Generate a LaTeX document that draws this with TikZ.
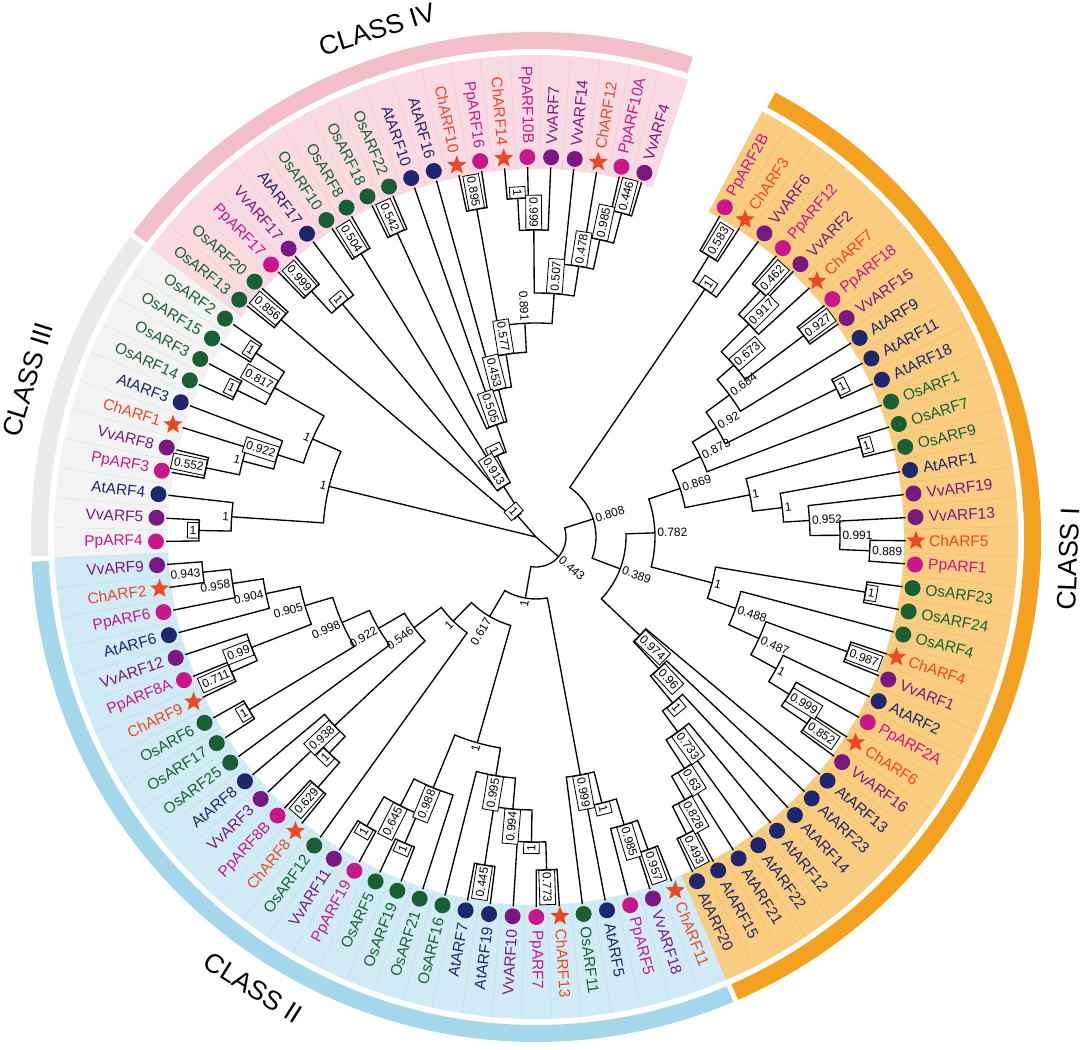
\documentclass[tikz,border=0pt]{standalone}
\usepackage{fontspec}
\setmainfont{Liberation Sans}
\usetikzlibrary{shapes.geometric}

\definecolor{cPp}{RGB}{199,23,138}
\definecolor{cVv}{RGB}{120,24,128}
\definecolor{cAt}{RGB}{30,38,110}
\definecolor{cOs}{RGB}{24,96,52}
\definecolor{cCh}{RGB}{236,72,36}
\definecolor{shI}{RGB}{249,204,128}
\definecolor{bandI}{RGB}{243,161,33}
\definecolor{shII}{RGB}{209,235,246}
\definecolor{bandII}{RGB}{165,215,236}
\definecolor{shIII}{RGB}{243,243,243}
\definecolor{bandIII}{RGB}{234,234,234}
\definecolor{shIV}{RGB}{250,218,226}
\definecolor{bandIV}{RGB}{243,190,204}

\tikzset{
branch/.style={line width=0.95pt, black}, % tree edges
bsplain/.style={font=\fontsize{8.5}{9}\selectfont, inner xsep=1.6pt, inner ysep=2pt}, % support value
bsbox/.style={bsplain, draw, line width=0.6pt, fill=white, inner ysep=2.6pt}, % support value in a box
leaflab/.style={font=\fontsize{11}{12}\selectfont, inner sep=0pt},
dotmark/.style={circle, minimum size=0.4cm, inner sep=0pt},
chmark/.style={star, star points=5, star point ratio=2.3, fill=cCh, minimum size=0.5cm, inner sep=0pt},
sepline/.style={black, opacity=0.06, line width=0.5pt},
classlab/.style={font=\fontsize{19}{19}\selectfont},
}

% clade: [label style]{name}{radius}{child a}{child b}{support}
\newcommand\clade[6][bsplain]{%
  \edef\aA{\csname ta@#4\endcsname}%
  \edef\aB{\csname ta@#5\endcsname}%
  \pgfmathsetmacro\aN{(\aA+\aB)/2}%
  \expandafter\xdef\csname ta@#2\endcsname{\aN}%
  \coordinate (#2) at (\aN:#3);
  \draw[branch] (#4) -- (\aA:#3) arc[start angle=\aA, end angle=\aB, radius=#3] -- (#5);
  \pgfmathtruncatemacro\rt{cos(\aN)>=0}%
  \ifnum\rt=1 \def\an{west}\pgfmathsetmacro\rot{\aN}\else\def\an{east}\pgfmathsetmacro\rot{\aN+180}\fi
  \node[#1, anchor=\an, rotate=\rot] (b#2) at (#2) {#6};
}
% sector between two angles and two radii
\newcommand\sector[5]{%
  \fill[#1] (#2:#4) arc[start angle=#2, end angle=#3, radius=#4] -- (#3:#5)
    arc[start angle=#3, end angle=#2, radius=#5] -- cycle;
}
\def\chtag{Ch}

\begin{document}
\begin{tikzpicture}[x=0.025cm, y=0.025cm]
\path[use as bounding box, fill=white] (-536,-513) rectangle (548,537);

% class sectors
\sector{shI}{61.99}{-66.71}{368}{482}
\sector{shII}{-66.71}{-177.54}{368}{482}
\sector{shIII}{-177.54}{-216.86}{368}{482}
\sector{shIV}{-216.86}{-288.36}{368}{482}
\foreach \i in {0,...,98}{
  \pgfmathsetmacro\sa{61.9875-3.575*\i}
  \draw[sepline] (\sa:368) -- (\sa:482);
}
\sector{bandI}{61.7}{-66.4}{488}{505}
\sector{bandII}{-67.0}{-177.2}{488}{505}
\sector{bandIII}{-177.8}{-216.5}{488}{505}
\sector{bandIV}{-217.1}{-288.1}{488}{505}

\node[classlab, rotate=87.6] (clI) at (-2.4:533) {CLASS I};
\node[classlab, rotate=-32.1] (clII) at (-122.1:532) {CLASS II};
\node[classlab, rotate=72.8] (clIII) at (162.8:532) {CLASS III};
\node[classlab, rotate=17.4] (clIV) at (107.4:532) {CLASS IV};

% leaves
\foreach \sp/\sf [count=\i from 0] in {
Pp/ARF2B, Ch/ARF3, Vv/ARF6, Pp/ARF12, Vv/ARF2, Ch/ARF7, Pp/ARF18, Vv/ARF15, At/ARF9, At/ARF11,
At/ARF18, Os/ARF1, Os/ARF7, Os/ARF9, At/ARF1, Vv/ARF19, Vv/ARF13, Ch/ARF5, Pp/ARF1, Os/ARF23,
Os/ARF24, Os/ARF4, Ch/ARF4, Vv/ARF1, At/ARF2, Pp/ARF2A, Ch/ARF6, Vv/ARF16, At/ARF13, At/ARF23,
At/ARF14, At/ARF12, At/ARF22, At/ARF21, At/ARF15, At/ARF20,
Ch/ARF11, Vv/ARF18, Pp/ARF5, At/ARF5, Os/ARF11, Ch/ARF13, Pp/ARF7, Vv/ARF10, At/ARF19, At/ARF7,
Os/ARF16, Os/ARF21, Os/ARF19, Os/ARF5, Pp/ARF19, Vv/ARF11, Os/ARF12, Ch/ARF8, Pp/ARF8B, Vv/ARF3,
At/ARF8, Os/ARF25, Os/ARF17, Os/ARF6, Ch/ARF9, Pp/ARF8A, Vv/ARF12, At/ARF6, Pp/ARF6, Ch/ARF2,
Vv/ARF9,
Pp/ARF4, Vv/ARF5, At/ARF4, Pp/ARF3, Vv/ARF8, Ch/ARF1, At/ARF3, Os/ARF14, Os/ARF3, Os/ARF15,
Os/ARF2,
Os/ARF13, Os/ARF20, Pp/ARF17, Vv/ARF17, At/ARF17, Os/ARF10, Os/ARF8, Os/ARF18, Os/ARF22, At/ARF10,
At/ARF16, Ch/ARF10, Pp/ARF16, Ch/ARF14, Pp/ARF10B, Vv/ARF7, Vv/ARF14, Ch/ARF12, Pp/ARF10A, Vv/ARF4}{
  \pgfmathsetmacro\ta{60.2-3.575*\i}
  \expandafter\xdef\csname ta@\sp\sf\endcsname{\ta}
  \coordinate (\sp\sf) at (\ta:370);
  \edef\cursp{\sp}
  \ifx\cursp\chtag \node[chmark] (m\sp\sf) at (\ta:380) {};
  \else \node[dotmark, fill=c\sp] (m\sp\sf) at (\ta:380) {};\fi
  \pgfmathtruncatemacro\rt{cos(\ta)>=0}
  \ifnum\rt=1 \def\an{west}\pgfmathsetmacro\rot{\ta}\else\def\an{east}\pgfmathsetmacro\rot{\ta+180}\fi
  \node[leaflab, text=c\sp, anchor=\an, rotate=\rot] (t\sp\sf) at (\ta:393) {\sp\sf};
}

% class I
\clade[bsbox]{c583}{330}{PpARF2B}{ChARF3}{0.583}
\clade[bsbox]{cI1}{300}{c583}{VvARF6}{1}
\clade[bsbox]{c462}{333}{PpARF12}{VvARF2}{0.462}
\clade[bsbox]{c917}{301}{c462}{ChARF7}{0.917}
\clade[bsbox]{c927}{335}{PpARF18}{VvARF15}{0.927}
\clade[bsbox]{c673}{262}{c917}{c927}{0.673}
\clade{c684}{240}{c673}{AtARF9}{0.684}
\clade[bsbox]{cAt1118}{335}{AtARF11}{AtARF18}{1}
\clade{c920}{211}{c684}{cAt1118}{0.92}
\clade{c873}{183}{c920}{OsARF1}{0.873}
\clade[bsbox]{cOs79}{337}{OsARF7}{OsARF9}{1}
\clade{c889}{334}{ChARF5}{PpARF1}{0.889}
\clade{c991}{304}{VvARF13}{c889}{0.991}
\clade{c952}{274}{VvARF19}{c991}{0.952}
\clade{cZ}{248}{AtARF1}{c952}{1}
\clade{cX}{218}{cOs79}{cZ}{1}
\clade{c869}{152}{c873}{cX}{0.869}
\clade[bsbox]{cOs2324}{334}{OsARF23}{OsARF24}{1}
\clade[bsbox]{c987}{332}{ChARF4}{VvARF1}{0.987}
\clade[bsbox]{c852}{329}{ChARF6}{VvARF16}{0.852}
\clade[bsbox]{c999a}{298}{PpARF2A}{c852}{0.999}
\clade{cAt2}{274}{AtARF2}{c999a}{1}
\clade{c487}{245}{c987}{cAt2}{0.487}
\clade{c488}{212}{OsARF4}{c487}{0.488}
\clade{cY}{182}{cOs2324}{c488}{1}
\clade{c782}{119}{c869}{cY}{0.782}
\clade[bsbox]{c493}{333}{AtARF15}{AtARF20}{0.493}
\clade[bsbox]{c828}{302}{AtARF21}{c493}{0.828}
\clade[bsbox]{c630}{275}{AtARF22}{c828}{0.63}
\clade[bsbox]{c733}{241}{AtARF12}{c630}{0.733}
\clade[bsbox]{cAt14}{215}{AtARF14}{c733}{1}
\clade[bsbox]{c960}{180}{AtARF23}{cAt14}{0.96}
\clade[bsbox]{c974}{143}{AtARF13}{c960}{0.974}
\clade{c389}{90}{c782}{c974}{0.389}
\clade{c808}{60}{cI1}{c389}{0.808}

% class II
\clade[bsbox]{c957}{332}{ChARF11}{VvARF18}{0.957}
\clade[bsbox]{c985b}{301}{PpARF5}{c957}{0.985}
\clade[bsbox]{cAt5}{274}{AtARF5}{c985b}{1}
\clade[bsbox]{c999b}{242}{OsARF11}{cAt5}{0.999}
\clade[bsbox]{c773}{333}{ChARF13}{PpARF7}{0.773}
\clade[bsbox]{cVv10}{305}{c773}{VvARF10}{1}
\clade[bsbox]{c445}{332}{AtARF19}{AtARF7}{0.445}
\clade[bsbox]{c994}{273}{cVv10}{c445}{0.994}
\clade[bsbox]{c995}{242}{c994}{OsARF16}{0.995}
\clade[bsbox]{cOs195}{333}{OsARF19}{OsARF5}{1}
\clade[bsbox]{cPp19}{335}{PpARF19}{VvARF11}{1}
\clade[bsbox]{c645}{301}{cOs195}{cPp19}{0.645}
\clade[bsbox]{c988}{271}{OsARF21}{c645}{0.988}
\clade{cII2}{214}{c995}{c988}{1}
\clade[bsbox]{c629}{332}{ChARF8}{PpARF8B}{0.629}
\clade[bsbox]{cVv3}{299}{c629}{VvARF3}{1}
\clade[bsbox]{c938}{276}{cVv3}{AtARF8}{0.938}
\clade[bsbox]{cOs176}{335}{OsARF17}{OsARF6}{1}
\clade[bsbox]{c711}{333}{ChARF9}{PpARF8A}{0.711}
\clade[bsbox]{c990}{305}{c711}{VvARF12}{0.99}
\clade{c943}{335}{ChARF2}{VvARF9}{0.943}
\clade{c958}{307}{PpARF6}{c943}{0.958}
\clade{c904}{276}{AtARF6}{c958}{0.904}
\clade{c905}{241}{c990}{c904}{0.905}
\clade{c998}{212}{cOs176}{c905}{0.998}
\clade{c922b}{182}{OsARF25}{c998}{0.922}
\clade{c546}{152}{c938}{c922b}{0.546}
\clade{cII3}{118}{OsARF12}{c546}{1}
\clade{c617}{92}{cII2}{cII3}{0.617}
\clade{cII}{62}{c999b}{c617}{1}
\clade{c443}{30}{c808}{cII}{0.443}

% class III
\clade[bsbox]{cPp4}{337}{PpARF4}{VvARF5}{1}
\clade{cAt4}{305}{AtARF4}{cPp4}{1}
\clade[bsbox]{c552}{337}{PpARF3}{VvARF8}{0.552}
\clade{cCh1}{303}{c552}{ChARF1}{1}
\clade[bsbox]{c922c}{271}{cCh1}{AtARF3}{0.922}
\clade[bsbox]{cOs143}{333}{OsARF14}{OsARF3}{1}
\clade[bsbox]{cOs152}{335}{OsARF15}{OsARF2}{1}
\clade[bsbox]{c817}{301}{cOs143}{cOs152}{0.817}
\clade{cIII2}{244}{c922c}{c817}{1}
\clade{cIII}{213}{cIII2}{cAt4}{1}

% class IV
\clade[bsbox]{c856}{335}{OsARF13}{OsARF20}{0.856}
\clade[bsbox]{c999c}{333}{PpARF17}{VvARF17}{0.999}
\clade[bsbox]{cAt17}{303}{c999c}{AtARF17}{1}
\clade[bsbox]{c504}{333}{OsARF10}{OsARF8}{0.504}
\clade[bsbox]{c542}{334}{OsARF18}{OsARF22}{0.542}
\clade[bsbox]{c895}{333}{ChARF10}{PpARF16}{0.895}
\clade[bsbox]{cCh14}{339}{ChARF14}{PpARF10B}{1}
\clade[bsbox]{c999d}{307}{cCh14}{VvARF7}{0.999}
\clade[bsbox]{c446}{335}{PpARF10A}{VvARF4}{0.446}
\clade[bsbox]{c985c}{304}{ChARF12}{c446}{0.985}
\clade[bsbox]{c478}{274}{VvARF14}{c985c}{0.478}
\clade[bsbox]{c507}{244}{c999d}{c478}{0.507}
\clade{c891}{214}{c895}{c507}{0.891}
\clade[bsbox]{c577}{185}{AtARF16}{c891}{0.577}
\clade[bsbox]{c453}{152}{AtARF10}{c577}{0.453}
\clade[bsbox]{c505}{119}{c542}{c453}{0.505}
\clade[bsbox]{cIV3}{90}{c504}{c505}{1}
\clade[bsbox]{c913}{60}{cAt17}{cIV3}{0.913}
\clade[bsbox]{cIV}{28}{c856}{c913}{1}

% root
\coordinate (root) at (0,0);
\draw[branch] (root) -- (cIV) (root) -- (cIII) (root) -- (c443);
\end{tikzpicture}
\end{document}
